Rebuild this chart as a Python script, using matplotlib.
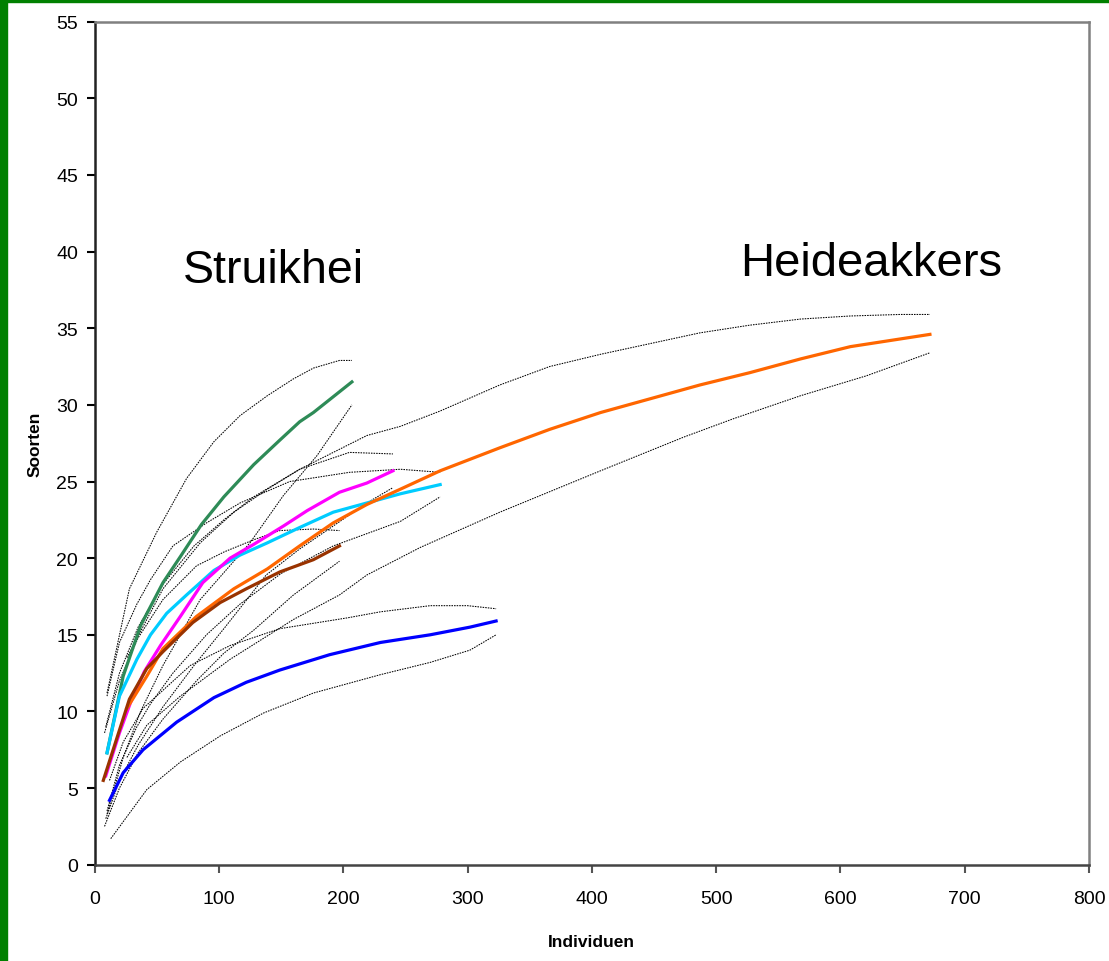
import matplotlib.pyplot as plt
from matplotlib.patches import Rectangle

plt.rcParams["font.family"] = ["Liberation Sans", "DejaVu Sans"]

# rarefaction curves (mean) per site
green_x = [10, 23, 37, 55, 69, 86, 104, 128, 149, 165, 176, 207]
green_y = [7.3, 12.3, 15.6, 18.4, 20.1, 22.2, 24.0, 26.1, 27.7, 28.9, 29.5, 31.5]
cyan_x = [10, 20, 34, 45, 58, 74, 96, 117, 139, 165, 192, 219, 246, 278]
cyan_y = [7.3, 11.0, 13.4, 15.0, 16.4, 17.6, 19.2, 20.2, 21.0, 22.0, 23.0, 23.6, 24.2, 24.8]
magenta_x = [9, 20, 29, 40, 53, 69, 87, 109, 128, 152, 171, 197, 219, 240]
magenta_y = [5.8, 8.6, 10.6, 12.6, 14.3, 16.2, 18.4, 20.0, 20.9, 22.1, 23.1, 24.3, 24.9, 25.7]
brown_x = [7, 28, 42, 55, 79, 101, 122, 149, 176, 197]
brown_y = [5.5, 10.8, 12.8, 13.9, 15.8, 17.1, 18.0, 19.1, 19.9, 20.8]
orange_x = [26, 42, 55, 82, 112, 139, 165, 192, 219, 246, 278, 326, 366, 407, 447, 487, 527, 568, 608, 648, 672]
orange_y = [10.2, 12.3, 14.1, 16.2, 18.0, 19.3, 20.8, 22.3, 23.5, 24.5, 25.7, 27.2, 28.4, 29.5, 30.4, 31.3, 32.1, 33.0, 33.8, 34.3, 34.6]
blue_x = [12, 23, 39, 66, 96, 122, 149, 189, 230, 270, 302, 323]
blue_y = [4.2, 6.0, 7.5, 9.3, 10.9, 11.9, 12.7, 13.7, 14.5, 15.0, 15.5, 15.9]

# confidence bounds (upper / lower)
green_up_x = [10, 28, 50, 74, 96, 117, 139, 160, 176, 197, 207]
green_up_y = [11.2, 18.0, 21.7, 25.2, 27.6, 29.3, 30.6, 31.7, 32.4, 32.9, 32.9]
green_lo_x = [10, 23, 37, 55, 85, 125, 152, 179, 207]
green_lo_y = [3.3, 7.0, 10.0, 13.0, 17.3, 21.0, 24.1, 26.7, 30.0]
cyan_up_x = [10, 20, 34, 45, 63, 90, 117, 157, 205, 246, 278]
cyan_up_y = [11.0, 14.5, 17.0, 18.6, 20.8, 22.3, 23.6, 25.0, 25.6, 25.8, 25.6]
cyan_lo_x = [10, 20, 34, 45, 63, 90, 117, 150, 192, 246, 278]
cyan_lo_y = [3.5, 6.5, 9.0, 10.5, 12.5, 15.0, 17.0, 19.0, 20.8, 22.4, 24.0]
magenta_up_x = [9, 20, 35, 55, 80, 104, 128, 165, 205, 240]
magenta_up_y = [9.0, 12.5, 15.5, 18.3, 20.8, 22.5, 24.0, 25.8, 26.9, 26.8]
magenta_lo_x = [9, 20, 35, 55, 80, 105, 138, 165, 192, 219, 240]
magenta_lo_y = [3.0, 5.5, 7.8, 10.3, 13.0, 15.5, 18.9, 20.6, 22.1, 23.6, 24.6]
brown_up_x = [8, 20, 35, 55, 82, 104, 128, 149, 176, 197]
brown_up_y = [8.6, 12.0, 14.8, 17.3, 19.5, 20.4, 21.2, 21.8, 21.9, 21.8]
brown_lo_x = [8, 20, 35, 55, 82, 104, 128, 160, 197]
brown_lo_y = [2.5, 5.0, 7.3, 9.5, 12.0, 13.8, 15.3, 17.6, 19.8]
orange_up_x = [26, 42, 55, 85, 112, 139, 165, 192, 219, 246, 278, 326, 366, 407, 447, 487, 527, 568, 608, 648, 672]
orange_up_y = [13.5, 16.0, 18.0, 21.0, 23.0, 24.5, 25.8, 26.9, 28.0, 28.6, 29.6, 31.3, 32.5, 33.3, 34.0, 34.7, 35.2, 35.6, 35.8, 35.9, 35.9]
orange_lo_x = [26, 42, 69, 109, 160, 197, 219, 262, 326, 407, 474, 514, 568, 621, 672]
orange_lo_y = [7.0, 9.1, 11.0, 13.4, 16.0, 17.6, 18.9, 20.7, 23.0, 25.7, 27.9, 29.1, 30.6, 31.9, 33.4]
blue_up_x = [12, 23, 39, 77, 109, 149, 203, 230, 270, 300, 323]
blue_up_y = [5.5, 8.0, 10.2, 13.0, 14.3, 15.4, 16.1, 16.5, 16.9, 16.9, 16.7]
blue_lo_x = [13, 42, 69, 101, 136, 176, 230, 270, 302, 323]
blue_lo_y = [1.7, 4.9, 6.7, 8.4, 9.9, 11.2, 12.4, 13.2, 14.0, 15.0]

fig = plt.figure(figsize=(11.09, 9.62), dpi=100)
ax = fig.add_axes([0.0853, 0.1001, 0.8967, 0.8763])

bounds = [(green_up_x, green_up_y), (green_lo_x, green_lo_y),
          (cyan_up_x, cyan_up_y), (cyan_lo_x, cyan_lo_y),
          (magenta_up_x, magenta_up_y), (magenta_lo_x, magenta_lo_y),
          (brown_up_x, brown_up_y), (brown_lo_x, brown_lo_y),
          (orange_up_x, orange_up_y), (orange_lo_x, orange_lo_y),
          (blue_up_x, blue_up_y), (blue_lo_x, blue_lo_y)]
for bx, by in bounds:
    ax.plot(bx, by, color='black', lw=0.75, ls=(0, (1.5, 1)))

ax.plot(green_x, green_y, color='#2E8B57', lw=2.3)
ax.plot(cyan_x, cyan_y, color='#00CCFF', lw=2.3)
ax.plot(magenta_x, magenta_y, color='#FF00FF', lw=2.3)
ax.plot(orange_x, orange_y, color='#FF6600', lw=2.3)
ax.plot(brown_x, brown_y, color='#993300', lw=2.3)
ax.plot(blue_x, blue_y, color='#0000FF', lw=2.3)

ax.text(71, 38.0, "Struikhei", fontsize=33.5, ha='left', va='baseline')
ax.text(519, 38.5, "Heideakkers", fontsize=34, ha='left', va='baseline')

ax.set_xlim(0, 800)
ax.set_ylim(0, 55)
ax.set_xticks(range(0, 801, 100))
ax.set_yticks(range(0, 56, 5))
ax.tick_params(axis='both', direction='out', length=6, width=1.5, labelsize=14)
ax.tick_params(axis='y', pad=6, colors='black')
ax.tick_params(axis='x', pad=12, color='#555555')
ax.spines['left'].set_color('#222222')
ax.spines['bottom'].set_color('#444444')
ax.spines['top'].set_color('#808080')
ax.spines['right'].set_color('#808080')
for s in ax.spines.values():
    s.set_linewidth(1.8)

ax.set_xlabel("Individuen", fontsize=12.5, fontweight='bold', labelpad=20)
ax.set_ylabel("Soorten", fontsize=12.5, fontweight='bold', labelpad=10)

# green frame on the left and top edges
fig.patches.append(Rectangle((0, 0), 7 / 1109, 1, transform=fig.transFigure, color='#008000', zorder=10))
fig.patches.append(Rectangle((0, 1 - 3 / 962), 1, 3 / 962, transform=fig.transFigure, color='#008000', zorder=10))

fig.savefig('out.png', dpi=100)
